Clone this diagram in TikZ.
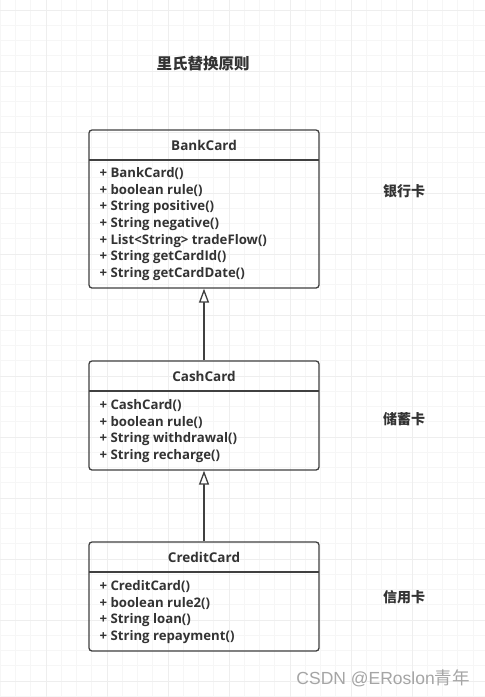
\documentclass[tikz,border=0pt]{standalone}
\usepackage{fontspec}
\setmainfont{Open Sans}
\newfontfamily\cjk{Noto Sans CJK SC}
\newfontfamily\marksans{Liberation Sans}
\definecolor{umlline}{RGB}{64, 64, 64}
\definecolor{textdark}{RGB}{51, 51, 51}
\definecolor{gridminor}{RGB}{246, 246, 246}
\definecolor{gridmajor}{RGB}{238, 238, 238}
\definecolor{markgray}{RGB}{165, 165, 165}
\usetikzlibrary{arrows.meta, positioning}
\tikzset{
  classbox/.style={rectangle, rounded corners=3pt, draw=umlline, line width=1.3pt,
                   minimum width=230pt, inner sep=0pt},
  classname/.style={font=\bfseries\fontsize{13.5}{15}\selectfont, text=textdark, inner sep=0pt},
  methods/.style={font=\bfseries\fontsize{13.2}{16.67}\selectfont, text=textdark,
                  align=left, inner sep=0pt},
  divider/.style={draw=umlline, line width=1.3pt},
  sidelabel/.style={font=\cjk\bfseries\fontsize{14}{16}\selectfont, text=textdark},
  inherit/.style={draw=umlline, line width=1.3pt,
                  -{Triangle[open, length=14pt, width=10pt, fill=white]}},
}

\begin{document}
\begin{tikzpicture}[x=1pt, y=-1pt]
  % background and grid
  \fill[white] (0,0) rectangle (485,697);
  \useasboundingbox (0,0) rectangle (485,697);
  \foreach \i in {0,...,31} {
    \draw[gridminor, line width=1pt] ({0.25+15.25*\i},0) -- ++(0,697);
  }
  \foreach \i in {0,...,45} {
    \draw[gridminor, line width=1pt] (0,{10+15.25*\i}) -- ++(485,0);
  }
  \foreach \i in {0,...,7} {
    \draw[gridmajor, line width=1pt] ({-14.75+61*\i},0) -- ++(0,697);
  }
  \foreach \i in {0,...,11} {
    \draw[gridmajor, line width=1pt] (0,{10+61*\i}) -- ++(485,0);
  }

  \node[font=\cjk\bfseries\fontsize{15.5}{18}\selectfont, text=textdark] (title) at (203,64) {里氏替换原则};

  % BankCard
  \node[classbox, minimum height=158pt] (bank) at (204,209) {};
  \node[classname] (bankName) at (204,145) {BankCard};
  \draw[divider] (89,160) -- (319,160);
  \node[methods, below right=38pt and 11pt of bank.north west] (bankOps) {
    + BankCard()\\
    + boolean rule()\\
    + String positive()\\
    + String negative()\\
    + List<String> tradeFlow()\\
    + String getCardId()\\
    + String getCardDate()};
  \node[sidelabel] (bankTag) at (404,191) {银行卡};

  % CashCard
  \node[classbox, minimum height=109pt] (cash) at (204,415.5) {};
  \node[classname] (cashName) at (204,376) {CashCard};
  \draw[divider] (89,391) -- (319,391);
  \node[methods, below right=39pt and 11pt of cash.north west] (cashOps) {
    + CashCard()\\
    + boolean rule()\\
    + String withdrawal()\\
    + String recharge()};
  \node[sidelabel] (cashTag) at (404,419) {储蓄卡};

  % CreditCard
  \node[classbox, minimum height=109pt] (credit) at (204,596.5) {};
  \node[classname] (creditName) at (204,557) {CreditCard};
  \draw[divider] (89,572) -- (319,572);
  \node[methods, below right=39pt and 11pt of credit.north west] (creditOps) {
    + CreditCard()\\
    + boolean rule2()\\
    + String loan()\\
    + String repayment()};
  \node[sidelabel] (creditTag) at (404,597) {信用卡};

  % inheritance
  \draw[inherit] (cash.north) -- (bank.south);
  \draw[inherit] (credit.north) -- (cash.south);

  \node[anchor=east, text=markgray, font=\marksans\fontsize{17.5}{20}\selectfont, inner sep=0pt]
    (mark) at (470,678) {CSDN @ERoslon{\cjk 青年}};
\end{tikzpicture}
\end{document}
